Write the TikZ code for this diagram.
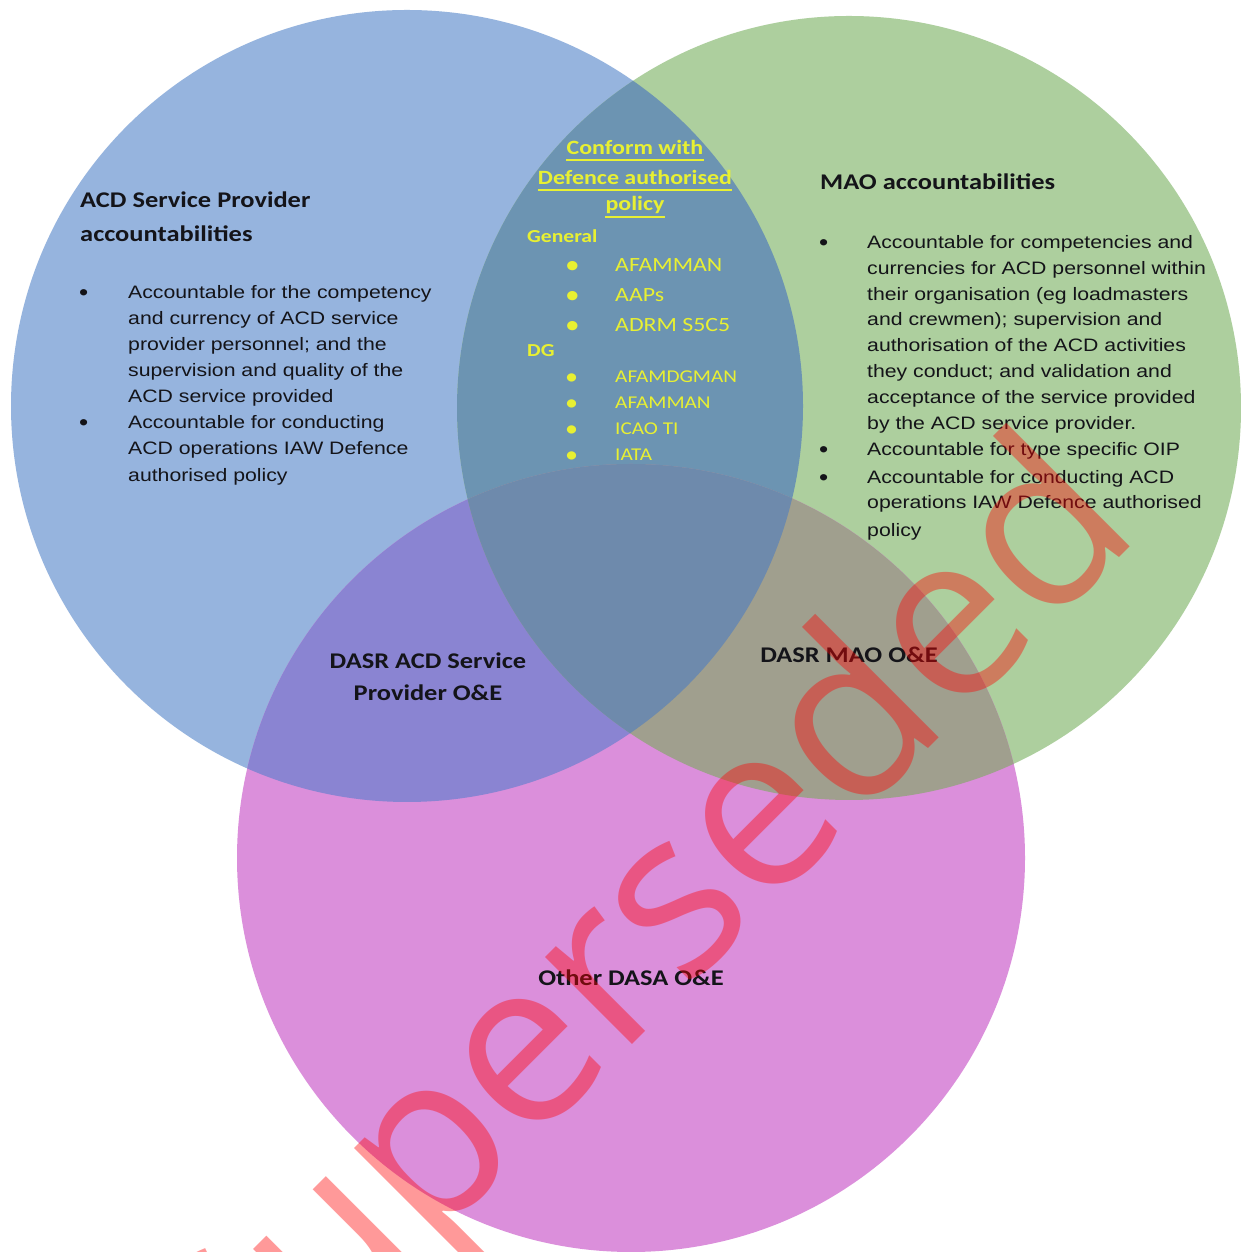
\documentclass[tikz,border=0pt]{standalone}
\usepackage{fontspec}
\setmainfont{Liberation Sans}
\newfontfamily\calfont{Carlito}
\newfontfamily\wmfont{Open Sans}

% the text of the diagram is set slightly widened
\newcommand\stretchx[1]{\scalebox{1.18}[1]{#1}}
% list bullet, a little larger than the font's own
\newcommand\listdot{\raisebox{-0.06em}{\scalebox{1.45}[1.3]{\textbullet}}}

\definecolor{cBlue}{RGB}{150,180,222}
\definecolor{cGreen}{RGB}{173,207,158}
\definecolor{cPink}{RGB}{219,143,219}
\definecolor{cBG}{RGB}{108,148,178}
\definecolor{cBP}{RGB}{138,132,210}
\definecolor{cGP}{RGB}{160,159,142}
\definecolor{cBGP}{RGB}{110,138,172}
\definecolor{ink}{RGB}{20,20,25}
\definecolor{policyyellow}{RGB}{232,240,50}

\tikzset{
  heading/.style={font=\calfont\bfseries\fontsize{22.4}{27}\selectfont, text=ink, inner sep=0pt, anchor=base west},
  overlaplabel/.style={font=\calfont\bfseries\fontsize{22.4}{27}\selectfont, text=ink, inner sep=0pt, anchor=base},
  bodytext/.style={font=\fontsize{18}{22}\selectfont, text=ink, inner sep=0pt, anchor=base west},
  policyhead/.style={font=\calfont\bfseries\fontsize{20.3}{24}\selectfont, text=policyyellow, inner sep=0pt, anchor=base},
  policysub/.style={font=\calfont\bfseries\fontsize{18.3}{22}\selectfont, text=policyyellow, inner sep=0pt, anchor=base west},
  policyitem/.style={font=\calfont\fontsize{20.2}{24}\selectfont, text=policyyellow, inner sep=0pt, anchor=base west},
  policyitemsmall/.style={font=\calfont\fontsize{18}{22}\selectfont, text=policyyellow, inner sep=0pt, anchor=base west},
  policyrule/.style={draw=policyyellow, line width=1.6pt},
}

\begin{document}
\begin{tikzpicture}[x=1pt,y=1pt]
\useasboundingbox (0,0) rectangle (1241,1252);
\fill[white] (0,0) rectangle (1241,1252);

% circle centres
\coordinate (cb) at (407,846);
\coordinate (cg) at (849,844);
\coordinate (cp) at (631,394);

% single regions
\fill[cBlue]  (cb) circle [radius=396];
\fill[cGreen] (cg) circle [radius=392];
\fill[cPink]  (cp) circle [radius=394];
% pairwise overlaps
\begin{scope}
  \clip (cb) circle [radius=396];
  \fill[cBG] (cg) circle [radius=392];
  \fill[cBP] (cp) circle [radius=394];
\end{scope}
\begin{scope}
  \clip (cg) circle [radius=392];
  \fill[cGP] (cp) circle [radius=394];
\end{scope}
% centre overlap
\begin{scope}
  \clip (cb) circle [radius=396];
  \clip (cg) circle [radius=392];
  \fill[cBGP] (cp) circle [radius=394];
\end{scope}

% ACD service provider
\node[heading] (sph1) at (80,1044) {\stretchx{ACD Service Provider}};
\node[heading] (sph2) at (80,1010) {\stretchx{accountabilities}};
\node[bodytext] (spb1) at (79,953) {\listdot};
\node[bodytext] (sp1) at (128,953) {\stretchx{Accountable for the competency}};
\node[bodytext] (sp2) at (128,927) {\stretchx{and currency of ACD service}};
\node[bodytext] (sp3) at (128,901) {\stretchx{provider personnel; and the}};
\node[bodytext] (sp4) at (128,875) {\stretchx{supervision and quality of the}};
\node[bodytext] (sp5) at (128,849) {\stretchx{ACD service provided}};
\node[bodytext] (spb2) at (79,823) {\listdot};
\node[bodytext] (sp6) at (128,823) {\stretchx{Accountable for conducting}};
\node[bodytext] (sp7) at (128,797) {\stretchx{ACD operations IAW Defence}};
\node[bodytext] (sp8) at (128,770) {\stretchx{authorised policy}};

% MAO
\node[heading] (maoh) at (820,1062) {\stretchx{MAO accountabilities}};
\node[bodytext] (maob1) at (819,1003) {\listdot};
\node[bodytext] (mao1) at (867,1003) {\stretchx{Accountable for competencies and}};
\node[bodytext] (mao2) at (867,977) {\stretchx{currencies for ACD personnel within}};
\node[bodytext] (mao3) at (867,951) {\stretchx{their organisation (eg loadmasters}};
\node[bodytext] (mao4) at (867,926) {\stretchx{and crewmen); supervision and}};
\node[bodytext] (mao5) at (867,900) {\stretchx{authorisation of the ACD activities}};
\node[bodytext] (mao6) at (867,874) {\stretchx{they conduct; and validation and}};
\node[bodytext] (mao7) at (867,848) {\stretchx{acceptance of the service provided}};
\node[bodytext] (mao8) at (867,822) {\stretchx{by the ACD service provider.}};
\node[bodytext] (maob2) at (819,796) {\listdot};
\node[bodytext] (mao9) at (867,796) {\stretchx{Accountable for type specific OIP}};
\node[bodytext] (maob3) at (819,768) {\listdot};
\node[bodytext] (mao10) at (867,768) {\stretchx{Accountable for conducting ACD}};
\node[bodytext] (mao11) at (867,743) {\stretchx{operations IAW Defence authorised}};
\node[bodytext] (mao12) at (867,715) {\stretchx{policy}};

% Defence authorised policy
\node[policyhead] (pol1) at (635,1097) {\stretchx{Conform with}};
\node[policyhead] (pol2) at (635,1067) {\stretchx{Defence authorised}};
\node[policyhead] (pol3) at (635,1041) {\stretchx{policy}};
\draw[policyrule] ([yshift=-5pt]pol1.base west) -- ([yshift=-5pt]pol1.base east);
\draw[policyrule] ([yshift=-5pt]pol2.base west) -- ([yshift=-5pt]pol2.base east);
\draw[policyrule] ([yshift=-6pt]pol3.base west) -- ([yshift=-6pt]pol3.base east);

\node[policysub] (gen) at (527,1009) {\stretchx{General}};
\node[policyitem] (gb1) at (565,980) {\listdot};
\node[policyitem] (g1) at (615,980) {\stretchx{AFAMMAN}};
\node[policyitem] (gb2) at (565,950) {\listdot};
\node[policyitem] (g2) at (615,950) {\stretchx{AAPs}};
\node[policyitem] (gb3) at (565,920) {\listdot};
\node[policyitem] (g3) at (615,920) {\stretchx{ADRM S5C5}};
\node[policysub] (dg) at (527,895) {\stretchx{DG}};
\node[policyitemsmall] (db1) at (565,869) {\listdot};
\node[policyitemsmall] (d1) at (615,869) {\stretchx{AFAMDGMAN}};
\node[policyitemsmall] (db2) at (565,843) {\listdot};
\node[policyitemsmall] (d2) at (615,843) {\stretchx{AFAMMAN}};
\node[policyitemsmall] (db3) at (565,817) {\listdot};
\node[policyitemsmall] (d3) at (615,817) {\stretchx{ICAO TI}};
\node[policyitemsmall] (db4) at (565,791) {\listdot};
\node[policyitemsmall] (d4) at (615,791) {\stretchx{IATA}};

% overlap labels
\node[overlaplabel] (dsp1) at (428,583) {\stretchx{DASR ACD Service}};
\node[overlaplabel] (dsp2) at (428,551) {\stretchx{Provider O\&E}};
\node[overlaplabel] (dmao) at (849,589) {\stretchx{DASR MAO O\&E}};
\node[overlaplabel] (other) at (631,266) {\stretchx{Other DASA O\&E}};

% status stamp
\node[rotate=45, anchor=base west, inner sep=0pt,
      font=\wmfont\fontsize{230}{230}\selectfont,
      text=red, text opacity=0.4] (stamp) at (238,-187) {Superseded};
\end{tikzpicture}
\end{document}
